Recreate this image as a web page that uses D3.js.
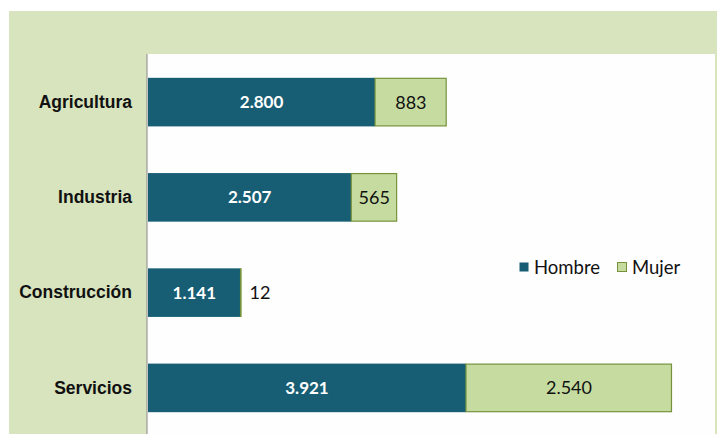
<!DOCTYPE html>
<html><head><meta charset="utf-8">
<script src="https://cdn.jsdelivr.net/npm/d3@7"></script>
<style>body{margin:0;background:#fff;}svg{display:block;}</style>
</head><body>
<svg id="c" width="717" height="434"></svg>
<script>
const categories = ["Agricultura","Industria","Construcción","Servicios"];
const hombre = [2800, 2507, 1141, 3921];
const mujer = [883, 565, 12, 2540];
const seriesNames = ["Hombre","Mujer"];

const svg = d3.select("#c");
const W = 717, H = 434;
const fmt = v => d3.format(",")(v).replace(/,/g, ".");

// background
svg.append("rect").attr("x",9).attr("y",11).attr("width",W-9).attr("height",H-11).attr("fill","#d8e4bd");
const plot = {x0:147, x1:715, y0:54, y1:434};
svg.append("rect").attr("x",plot.x0).attr("y",plot.y0).attr("width",plot.x1-plot.x0).attr("height",plot.y1-plot.y0).attr("fill","#fefefe");

const x = d3.scaleLinear().domain([0, 7000]).range([148, 148 + 7000*0.0811]);
const y = d3.scaleBand().domain(categories).range([54, 436]).paddingInner(0.49).paddingOuter(0.25);

const data = categories.map((c,i)=>({c, h:hombre[i], m:mujer[i]}));

// hombre bars
svg.selectAll(".h").data(data).join("rect").attr("class","h")
  .attr("x", x(0)).attr("y", d=>y(d.c)).attr("width", d=>x(d.h)-x(0)).attr("height", y.bandwidth())
  .attr("fill","#175e74");
// mujer bars
svg.selectAll(".m").data(data).join("rect").attr("class","m")
  .attr("x", d=>x(d.h)).attr("y", d=>y(d.c)+0.5).attr("width", d=>Math.max(0.5, x(d.h+d.m)-x(d.h)-0.5)).attr("height", y.bandwidth()-1)
  .attr("fill","#c5dba0").attr("stroke","#76933c").attr("stroke-width",1.2);

// axis
const ax = svg.append("g").attr("transform",`translate(${plot.x0},0)`).call(d3.axisLeft(y).tickSize(0).tickPadding(15));
ax.select(".domain").attr("stroke","#888").attr("d", `M0,${plot.y0}V${plot.y1}`);
ax.selectAll("text").attr("font-family","Liberation Sans, Arial, sans-serif").attr("font-weight","bold").attr("font-size",17.5).attr("fill","#111");

// labels
svg.selectAll(".hl").data(data).join("text").attr("class","hl")
  .attr("x", d=>(x(0)+x(d.h))/2).attr("y", d=>y(d.c)+y.bandwidth()/2).attr("dy","0.36em")
  .attr("text-anchor","middle").attr("font-family","Lato, 'Open Sans', sans-serif").attr("font-weight","bold").attr("font-size",17).attr("fill","#fff")
  .text(d=>fmt(d.h));
svg.selectAll(".ml").data(data).join("text").attr("class","ml")
  .attr("x", d=> (x(d.h+d.m)-x(d.h) > 30) ? (x(d.h)+x(d.h+d.m))/2 : x(d.h+d.m)+8)
  .attr("text-anchor", d=> (x(d.h+d.m)-x(d.h) > 30) ? "middle" : "start")
  .attr("y", d=>y(d.c)+y.bandwidth()/2).attr("dy","0.36em")
  .attr("font-family","Lato, 'Open Sans', sans-serif").attr("font-size",18).attr("fill","#111")
  .text(d=>fmt(d.m));

// legend
const leg = svg.append("g");
const lx = [519, 617];
seriesNames.forEach((s,i)=>{
  leg.append("rect").attr("x",lx[i]+0.5).attr("y",262.5).attr("width",9).attr("height",9)
    .attr("fill", i===0 ? "#175e74" : "#c5dba0").attr("stroke", i===0 ? "none" : "#76933c");
  leg.append("text").attr("x",lx[i]+15).attr("y",267).attr("dy","0.36em")
    .attr("font-family","Lato, 'Open Sans', sans-serif").attr("font-size",18.5).attr("fill","#111").text(s);
});
</script>
</body></html>
